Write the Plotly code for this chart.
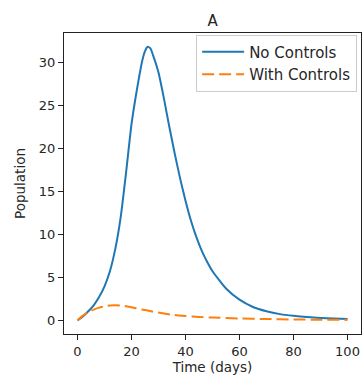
import plotly.graph_objects as go

# Data
t_days = [0, 2, 4, 6, 8, 10, 12, 14, 16, 18, 20, 22, 24, 25, 26, 27, 28, 30, 32, 34, 36,
          38, 40, 42, 44, 46, 48, 50, 55, 60, 65, 70, 75, 80, 85, 90, 95, 100]
no_controls = [0, 0.46, 1.05, 1.75, 2.7, 3.95, 5.7, 8.3, 12.0, 17.2, 22.8, 26.8, 30.2,
               31.3, 31.8, 31.6, 30.8, 28.8, 25.8, 22.5, 19.4, 16.5, 13.9, 11.6, 9.7,
               8.1, 6.8, 5.7, 3.7, 2.4, 1.55, 1.05, 0.72, 0.52, 0.38, 0.28, 0.2, 0.15]

t_ctrl = [0, 2, 4, 6, 8, 10, 12, 14, 16, 18, 20, 22, 24, 26, 28, 30, 35, 40, 45, 50,
          60, 70, 80, 90, 100]
with_controls = [0, 0.55, 0.95, 1.25, 1.48, 1.63, 1.72, 1.75, 1.72, 1.63, 1.52, 1.38,
                 1.25, 1.14, 1.0, 0.9, 0.65, 0.5, 0.4, 0.32, 0.22, 0.15, 0.1, 0.07, 0.05]

x_ticks = [0, 20, 40, 60, 80, 100]
y_ticks = [0, 5, 10, 15, 20, 25, 30]

FONT = "DejaVu Sans"
TXT = "#262626"

fig = go.Figure()
fig.add_trace(go.Scatter(x=t_days, y=no_controls, mode="lines", name="No Controls",
                         line=dict(color="#1f77b4", width=2, shape="spline", smoothing=0.5)))
fig.add_trace(go.Scatter(x=t_ctrl, y=with_controls, mode="lines", name="With Controls",
                         line=dict(color="#ff7f0e", width=2, dash="12px,5px", shape="spline",
                                   smoothing=0.5)))

axis_common = dict(showline=True, mirror=True, linecolor="#222222", linewidth=1,
                   ticks="outside", ticklen=5, tickcolor="#222222", showgrid=False,
                   zeroline=False, tickfont=dict(family=FONT, size=13, color=TXT))

fig.update_layout(
    width=362, height=379,
    margin=dict(l=64, r=1, t=33, b=45),
    paper_bgcolor="white", plot_bgcolor="white",
    title=dict(text="A", x=0.5875, xanchor="center", y=0.945, yanchor="middle",
               font=dict(family=FONT, size=15, color=TXT)),
    xaxis=dict(range=[-5, 105], tickvals=x_ticks,
               title=dict(text="Time (days)", standoff=4,
                          font=dict(family=FONT, size=13.5, color=TXT)),
               **axis_common),
    yaxis=dict(range=[-1.59, 33.4], tickvals=y_ticks,
               title=dict(text="Population", standoff=10,
                          font=dict(family=FONT, size=13.5, color=TXT)),
               **axis_common),
    legend=dict(x=0.987, y=0.995, xanchor="right", yanchor="top",
                bgcolor="rgba(255,255,255,0.8)", bordercolor="#cccccc", borderwidth=1,
                font=dict(family=FONT, size=15, color=TXT),
                tracegroupgap=0, itemwidth=42),
    showlegend=True,
)

fig.write_html("out.html")
